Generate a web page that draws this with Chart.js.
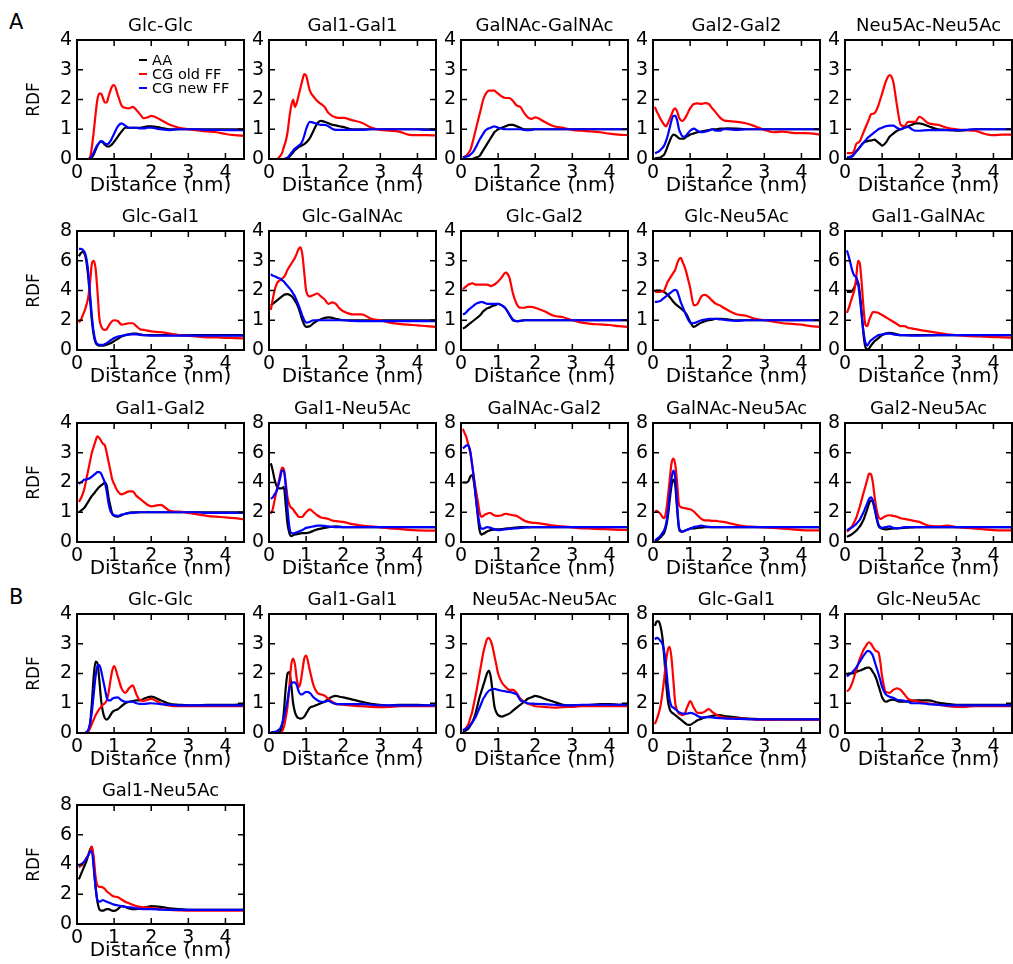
<!DOCTYPE html>
<html><head><meta charset="utf-8">
<script src="https://cdn.jsdelivr.net/npm/chart.js@4.4.1/dist/chart.umd.min.js"></script>
<style>
body{margin:0;background:#fff;width:1013px;height:964px;position:relative;overflow:hidden;font-family:"DejaVu Sans",sans-serif;color:#000;}
canvas{position:absolute;}
.sec{position:absolute;font-size:21px;line-height:1;}
.leg{position:absolute;left:139px;font-size:14.5px;line-height:14px;}
.leg div{position:relative;height:14.2px;white-space:nowrap;}
.leg span.ln{position:absolute;left:0;top:6px;width:8px;height:2px;}
.leg span.tx{position:absolute;left:13px;top:0;}
</style></head><body>
<div class="sec" style="left:9px;top:12px">A</div>
<div class="sec" style="left:9px;top:587px">B</div>
<script>
const distance = [0.05,0.1,0.15,0.2,0.25,0.3,0.35,0.4,0.45,0.5,0.55,0.6,0.65,0.7,0.75,0.8,0.85,0.9,0.95,1.0,
  1.1,1.2,1.3,1.4,1.5,1.6,1.7,1.8,1.9,2.0,
  2.25,2.5,2.75,3.0,3.25,3.5,3.75,4.0,4.25,4.5];

const panelTitles = ['Glc-Glc','Gal1-Gal1','GalNAc-GalNAc','Gal2-Gal2','Neu5Ac-Neu5Ac',
  'Glc-Gal1','Glc-GalNAc','Glc-Gal2','Glc-Neu5Ac','Gal1-GalNAc',
  'Gal1-Gal2','Gal1-Neu5Ac','GalNAc-Gal2','GalNAc-Neu5Ac','Gal2-Neu5Ac',
  'Glc-Glc','Gal1-Gal1','Neu5Ac-Neu5Ac','Glc-Gal1','Glc-Neu5Ac',
  'Gal1-Neu5Ac'];

const yMax = [4,4,4,4,4, 8,4,4,4,8, 4,8,8,8,8, 4,4,4,8,4, 8];

const seriesNames = ['AA','CG old FF','CG new FF'];

const aaValues = [
 [0,0,0,0,0,0,0,0.05,0.15,0.3,0.45,0.55,0.58,0.55,0.48,0.43,0.42,0.45,0.5,0.58, 0.75,0.92,1.05,1.05,1.05,1.05,1.05,1.07,1.1,1.1, 1.05,1.0,1.0,1.0,1.0,1.0,1.0,1.0,1.0,1.0],
 [0,0,0,0,0,0,0,0,0,0.02,0.08,0.15,0.22,0.3,0.35,0.4,0.43,0.47,0.5,0.55, 0.7,0.95,1.2,1.28,1.25,1.2,1.15,1.13,1.1,1.08, 1.0,1.0,1.0,1.0,1.0,1.0,1.0,1.0,1.0,1.0],
 [0,0,0,0,0,0,0.02,0.05,0.07,0.1,0.2,0.3,0.4,0.5,0.6,0.7,0.8,0.9,0.95,1.0, 1.05,1.1,1.15,1.15,1.1,1.05,1.0,1.0,1.0,1.0, 1.0,1.0,1.0,1.0,1.0,1.0,1.0,1.0,1.0,1.0],
 [0.02,0.03,0.04,0.05,0.1,0.15,0.28,0.45,0.6,0.75,0.82,0.8,0.75,0.7,0.68,0.68,0.7,0.75,0.78,0.82, 0.86,0.9,0.92,0.95,0.97,1.0,1.0,1.02,1.02,1.03, 1.02,1.0,1.0,1.0,1.0,1.0,1.0,1.0,1.0,1.0],
 [0.05,0.05,0.08,0.1,0.18,0.25,0.32,0.4,0.48,0.55,0.58,0.6,0.62,0.62,0.64,0.65,0.6,0.55,0.5,0.45, 0.55,0.75,0.85,0.95,1.0,1.05,1.1,1.15,1.2,1.2, 1.1,1.0,0.98,0.95,0.97,1.0,1.0,1.0,1.0,1.0],
 [6.3,6.5,6.6,6.5,6.0,5.0,3.5,2.0,1.0,0.5,0.35,0.3,0.3,0.3,0.32,0.35,0.4,0.45,0.52,0.6, 0.75,0.9,1.0,1.05,1.1,1.1,1.05,1.0,1.0,1.0, 1.0,1.0,1.0,1.0,1.0,1.0,1.0,1.0,1.0,1.0],
 [1.5,1.55,1.6,1.65,1.7,1.75,1.8,1.85,1.87,1.88,1.86,1.82,1.75,1.65,1.55,1.4,1.2,1.0,0.85,0.78, 0.8,0.9,0.98,1.03,1.08,1.1,1.08,1.05,1.02,1.0, 1.0,1.0,1.0,1.0,1.0,1.0,1.0,1.0,1.0,1.0],
 [0.72,0.75,0.8,0.85,0.9,0.95,1.0,1.05,1.1,1.15,1.22,1.3,1.35,1.4,1.42,1.45,1.48,1.5,1.52,1.55, 1.5,1.4,1.2,1.0,0.97,0.98,1.0,1.0,1.0,1.0, 1.0,1.0,1.0,1.0,1.0,1.0,1.0,1.0,1.0,1.0],
 [1.95,2.0,2.0,2.0,1.98,1.95,1.9,1.85,1.78,1.7,1.62,1.55,1.5,1.45,1.4,1.35,1.28,1.2,1.08,0.95, 0.78,0.85,0.92,0.97,1.0,1.02,1.05,1.05,1.04,1.03, 1.0,1.0,1.0,1.0,1.0,1.0,1.0,1.0,1.0,1.0],
 [3.9,3.9,3.9,4.0,4.2,4.5,4.6,3.8,2.5,1.0,0.2,0.05,0.1,0.3,0.45,0.6,0.7,0.8,0.9,1.0, 1.1,1.15,1.12,1.05,1.0,1.0,1.0,1.0,1.0,1.0, 1.0,1.0,1.0,1.0,1.0,1.0,1.0,1.0,1.0,1.0],
 [1.0,1.05,1.1,1.15,1.25,1.35,1.45,1.55,1.62,1.7,1.78,1.85,1.9,1.95,2.0,1.9,1.5,1.2,0.95,0.88, 0.85,0.9,0.95,0.98,1.0,1.0,1.0,1.0,1.0,1.0, 1.0,1.0,1.0,1.0,1.0,1.0,1.0,1.0,1.0,1.0],
 [5.3,4.8,4.2,3.8,3.6,3.6,3.6,3.7,2.5,1.2,0.6,0.4,0.45,0.5,0.52,0.55,0.58,0.6,0.6,0.6, 0.65,0.75,0.85,0.9,0.95,1.0,1.02,1.05,1.03,1.0, 1.0,1.0,1.0,1.0,1.0,1.0,1.0,1.0,1.0,1.0],
 [4.0,4.0,4.0,4.1,4.4,4.5,4.0,3.0,1.8,0.8,0.5,0.55,0.62,0.7,0.75,0.8,0.82,0.85,0.85,0.85, 0.87,0.9,0.92,0.95,0.97,1.0,1.0,1.0,1.0,1.0, 1.0,1.0,1.0,1.0,1.0,1.0,1.0,1.0,1.0,1.0],
 [0.05,0.1,0.2,0.3,0.45,0.6,1.0,1.7,2.8,3.8,4.2,3.8,2.2,0.9,0.7,0.7,0.75,0.8,0.85,0.9, 0.92,0.95,0.97,1.0,1.0,1.0,1.0,1.0,1.0,1.0, 1.0,1.0,1.0,1.0,1.0,1.0,1.0,1.0,1.0,1.0],
 [0.35,0.4,0.47,0.55,0.65,0.75,0.9,1.05,1.25,1.5,1.85,2.2,2.6,2.8,2.7,2.2,1.6,1.1,0.95,0.9, 0.85,0.88,0.9,0.92,0.93,0.95,0.97,0.98,1.0,1.0, 1.0,1.0,1.0,1.0,1.0,1.0,1.0,1.0,1.0,1.0],
 [0,0,0,0,0.02,0.05,0.3,1.0,1.9,2.4,2.35,1.8,1.1,0.7,0.5,0.45,0.5,0.6,0.7,0.75, 0.8,0.9,1.0,1.05,1.07,1.1,1.1,1.15,1.2,1.22, 1.1,0.98,0.95,0.93,0.93,0.95,0.95,0.95,0.95,0.97],
 [0,0,0,0,0.02,0.05,0.2,0.7,1.5,2.0,2.05,1.6,1.0,0.7,0.55,0.5,0.48,0.5,0.55,0.65, 0.85,0.9,0.95,1.0,1.05,1.15,1.22,1.25,1.22,1.2, 1.12,1.05,0.98,0.95,0.92,0.95,0.95,0.95,0.93,0.92],
 [0.05,0.07,0.1,0.15,0.25,0.35,0.5,0.7,0.95,1.2,1.4,1.6,1.8,2.0,2.1,1.9,1.4,0.9,0.7,0.6, 0.55,0.6,0.65,0.75,0.85,0.95,1.05,1.15,1.2,1.25, 1.15,1.05,0.95,0.93,0.93,0.95,0.97,0.97,0.95,0.97],
 [7.2,7.5,7.5,7.2,6.5,5.2,3.5,2.2,1.6,1.4,1.3,1.2,1.1,1.0,0.9,0.8,0.7,0.6,0.55,0.55, 0.7,0.85,0.95,1.05,1.1,1.15,1.2,1.2,1.15,1.12, 1.05,0.98,0.95,0.92,0.92,0.92,0.92,0.92,0.92,0.92],
 [1.95,2.0,2.0,2.0,2.02,2.05,2.08,2.1,2.12,2.15,2.18,2.2,2.2,2.15,2.05,1.95,1.8,1.6,1.4,1.2, 1.05,1.1,1.12,1.08,1.05,1.05,1.06,1.08,1.1,1.1, 1.1,1.02,0.98,0.95,0.95,0.95,0.95,0.95,0.95,0.95],
 [3.0,3.3,3.6,3.9,4.2,4.6,5.0,5.2,4.0,2.5,1.5,1.0,0.9,0.9,0.95,1.0,1.0,0.95,0.9,0.88, 1.0,1.2,1.15,1.05,1.0,1.0,1.05,1.1,1.15,1.2, 1.15,1.05,1.0,0.95,0.95,0.95,0.95,0.95,0.95,0.95]
];

const cgOldValues = [
 [0,0,0,0,0,0,0.05,0.4,0.9,1.5,2.0,2.2,2.2,2.05,1.9,1.9,2.1,2.3,2.45,2.48, 2.15,1.8,1.72,1.7,1.75,1.65,1.5,1.37,1.4,1.45, 1.32,1.15,1.05,1.0,0.96,0.93,0.9,0.84,0.8,0.78],
 [0,0,0,0,0.02,0.1,0.2,0.4,0.6,0.9,1.4,1.8,2.0,1.75,1.9,2.15,2.4,2.65,2.85,2.8, 2.3,2.1,1.95,1.85,1.75,1.55,1.45,1.4,1.38,1.38, 1.3,1.22,1.06,0.98,0.95,0.92,0.82,0.8,0.8,0.79],
 [0.05,0.08,0.12,0.2,0.3,0.5,0.75,1.0,1.25,1.5,1.75,2.0,2.15,2.25,2.3,2.3,2.3,2.3,2.25,2.2, 2.1,2.05,2.05,1.95,1.8,1.75,1.55,1.4,1.35,1.4, 1.25,1.1,1.05,0.98,0.95,0.93,0.9,0.85,0.82,0.8],
 [1.75,1.6,1.48,1.35,1.25,1.15,1.1,1.2,1.35,1.5,1.65,1.7,1.6,1.4,1.3,1.28,1.35,1.45,1.58,1.7, 1.85,1.87,1.85,1.88,1.85,1.7,1.55,1.4,1.3,1.28, 1.25,1.2,1.1,0.98,0.9,0.92,0.88,0.87,0.86,0.82],
 [0.2,0.2,0.2,0.2,0.3,0.5,0.55,0.6,0.75,0.9,1.05,1.2,1.35,1.5,1.52,1.55,1.65,1.8,2.0,2.2, 2.6,2.82,2.6,1.8,1.15,1.1,1.25,1.25,1.25,1.42, 1.2,1.15,1.05,1.0,0.97,0.95,0.85,0.8,0.82,0.82],
 [1.85,2.0,2.3,2.6,3.0,3.5,4.5,5.8,6.0,5.5,4.0,2.2,1.6,1.4,1.35,1.4,1.6,1.8,1.95,2.0, 1.95,1.7,1.75,1.8,1.8,1.6,1.4,1.35,1.3,1.25, 1.2,1.1,1.0,0.95,0.9,0.85,0.85,0.82,0.8,0.78],
 [1.35,1.7,2.0,2.2,2.3,2.35,2.4,2.45,2.55,2.7,2.8,2.9,3.0,3.1,3.25,3.4,3.45,3.2,2.6,2.0, 1.8,1.85,1.9,1.8,1.7,1.55,1.6,1.55,1.4,1.3, 1.2,1.2,1.05,1.0,0.92,0.88,0.85,0.83,0.8,0.78],
 [2.05,2.1,2.15,2.2,2.22,2.25,2.22,2.2,2.2,2.2,2.2,2.2,2.2,2.2,2.18,2.15,2.17,2.2,2.25,2.3, 2.45,2.6,2.45,1.9,1.55,1.42,1.42,1.45,1.45,1.42, 1.3,1.15,1.1,1.0,0.92,0.88,0.86,0.84,0.8,0.78],
 [2.0,1.95,1.95,1.95,1.97,2.0,2.15,2.3,2.4,2.5,2.6,2.7,2.9,3.05,3.1,2.95,2.8,2.6,2.35,2.1, 1.5,1.55,1.8,1.85,1.78,1.65,1.55,1.5,1.42,1.35, 1.2,1.15,1.05,1.0,0.95,0.9,0.88,0.85,0.8,0.78],
 [2.5,2.8,3.2,3.6,4.0,4.8,6.0,5.8,4.5,2.8,1.7,1.6,2.0,2.3,2.55,2.55,2.52,2.5,2.42,2.35, 2.2,2.05,1.9,1.75,1.6,1.6,1.5,1.45,1.4,1.35, 1.25,1.15,1.05,1.0,0.95,0.92,0.9,0.87,0.85,0.82],
 [1.35,1.45,1.6,1.8,2.1,2.4,2.7,3.0,3.2,3.4,3.55,3.5,3.4,3.3,3.25,3.0,2.7,2.4,2.1,1.95, 1.7,1.6,1.65,1.7,1.7,1.55,1.45,1.35,1.25,1.2, 1.25,1.05,1.02,0.98,0.93,0.88,0.85,0.83,0.8,0.76],
 [1.9,2.2,2.8,3.4,3.9,4.5,5.0,4.9,4.0,3.0,2.5,2.3,2.2,2.0,1.85,1.7,1.68,1.7,1.85,2.0, 2.2,2.0,1.8,1.65,1.6,1.55,1.45,1.4,1.38,1.35, 1.2,1.1,1.05,0.98,0.92,0.88,0.82,0.78,0.77,0.77],
 [7.6,7.3,7.0,6.5,6.0,5.2,4.3,3.5,2.8,2.0,1.7,1.75,1.85,1.9,1.95,1.95,1.85,1.8,1.75,1.75, 1.8,1.9,1.85,1.8,1.75,1.6,1.45,1.35,1.3,1.28, 1.2,1.1,1.05,0.98,0.92,0.9,0.87,0.85,0.82,0.8],
 [2.05,2.1,2.0,1.9,1.7,1.6,2.0,3.0,4.2,5.3,5.6,5.2,4.0,2.5,2.35,2.3,2.28,2.25,2.22,2.2, 2.05,1.8,1.55,1.45,1.45,1.42,1.42,1.38,1.35,1.3, 1.15,1.05,1.02,0.98,0.95,0.9,0.85,0.8,0.78,0.78],
 [0.7,0.8,0.95,1.1,1.35,1.6,2.0,2.4,2.85,3.3,3.75,4.2,4.6,4.55,4.0,3.0,2.2,1.7,1.55,1.6, 1.75,1.8,1.75,1.7,1.6,1.55,1.5,1.45,1.4,1.35, 1.1,1.05,1.1,1.0,0.95,0.9,0.85,0.8,0.78,0.78],
 [0,0,0,0,0,0.05,0.15,0.3,0.45,0.6,0.7,0.8,0.88,0.95,1.0,1.1,1.35,1.75,2.1,2.25, 1.9,1.5,1.35,1.5,1.6,1.3,1.1,1.08,1.12,1.15, 1.0,0.92,0.9,0.9,0.9,0.9,0.9,0.9,0.9,0.9],
 [0,0,0,0,0,0,0.05,0.2,0.5,0.9,1.6,2.3,2.5,2.3,1.8,1.55,1.7,2.1,2.5,2.6, 2.1,1.6,1.35,1.3,1.25,1.15,1.05,0.98,0.96,0.95, 0.92,0.9,0.88,0.87,0.88,0.9,0.9,0.9,0.9,0.9],
 [0.1,0.12,0.2,0.3,0.5,0.7,1.0,1.3,1.65,2.0,2.35,2.7,2.95,3.15,3.2,3.1,2.9,2.6,2.3,2.0, 1.7,1.55,1.45,1.45,1.35,1.15,1.05,0.98,0.95,0.9, 0.88,0.85,0.87,0.88,0.9,0.9,0.9,0.9,0.9,0.9],
 [0.6,0.9,1.3,1.8,2.6,3.6,4.8,5.6,5.8,5.0,3.5,2.0,1.5,1.3,1.25,1.2,1.25,1.6,1.9,2.15, 1.7,1.35,1.35,1.45,1.6,1.4,1.25,1.1,1.05,1.0, 0.98,0.95,0.9,0.88,0.88,0.9,0.9,0.9,0.9,0.9],
 [1.4,1.45,1.55,1.7,1.9,2.1,2.3,2.5,2.65,2.8,2.9,3.0,3.05,3.0,2.9,2.8,2.75,2.72,2.4,1.9, 1.38,1.35,1.45,1.5,1.45,1.3,1.15,1.1,1.08,1.05, 1.0,0.95,0.9,0.88,0.88,0.9,0.9,0.9,0.9,0.9],
 [3.8,3.9,4.0,4.2,4.4,4.6,4.9,5.2,4.5,3.2,2.6,2.5,2.5,2.45,2.35,2.2,2.1,2.0,1.9,1.85, 1.8,1.65,1.5,1.4,1.3,1.2,1.15,1.12,1.1,1.08, 1.0,0.95,0.92,0.9,0.9,0.9,0.9,0.9,0.9,0.9]
];

const cgNewValues = [
 [0,0,0,0,0,0,0.03,0.1,0.22,0.35,0.47,0.55,0.6,0.58,0.52,0.5,0.52,0.6,0.72,0.85, 1.1,1.2,1.12,1.05,1.05,1.05,1.03,1.03,1.05,1.05, 1.0,0.97,1.0,1.0,1.0,0.98,0.98,0.97,0.97,0.97],
 [0,0,0,0,0,0,0,0,0.02,0.05,0.12,0.2,0.28,0.35,0.4,0.45,0.5,0.6,0.78,1.0, 1.25,1.22,1.18,1.15,1.15,1.1,1.02,0.98,0.98,0.98, 0.98,0.98,1.0,1.0,1.0,1.0,1.0,1.0,0.98,0.98],
 [0.05,0.07,0.08,0.1,0.15,0.2,0.28,0.4,0.52,0.65,0.75,0.85,0.95,1.0,1.03,1.05,1.08,1.1,1.08,1.05, 1.02,1.0,1.0,1.0,1.0,1.0,0.98,0.97,0.98,1.0, 1.0,1.0,1.0,1.0,1.0,1.0,1.0,1.0,1.0,1.0],
 [0.2,0.22,0.25,0.3,0.37,0.45,0.6,0.8,1.05,1.3,1.45,1.45,1.3,1.0,0.85,0.75,0.75,0.8,0.88,0.95, 1.02,0.95,0.9,0.92,0.95,1.0,0.95,0.95,1.0,1.0, 0.98,1.0,1.0,1.0,1.0,1.0,1.0,1.0,1.0,1.0],
 [0.05,0.05,0.07,0.1,0.17,0.25,0.32,0.4,0.48,0.55,0.62,0.7,0.75,0.8,0.85,0.9,0.95,1.0,1.03,1.05, 1.1,1.12,1.12,1.05,1.0,1.05,1.08,1.0,0.95,0.95, 0.97,0.97,0.97,0.97,0.98,1.0,1.0,1.0,1.0,1.0],
 [6.8,6.8,6.75,6.6,6.2,5.3,3.8,2.3,1.2,0.6,0.4,0.35,0.35,0.35,0.4,0.45,0.55,0.65,0.72,0.8, 0.9,0.95,1.0,1.05,1.05,1.05,1.02,1.0,0.98,0.97, 0.97,0.97,0.97,0.97,0.97,0.97,0.97,0.97,0.97,0.97],
 [2.55,2.5,2.48,2.45,2.42,2.4,2.35,2.3,2.22,2.15,2.08,2.0,1.9,1.8,1.65,1.5,1.32,1.15,1.0,0.92, 0.95,1.0,1.0,1.0,1.0,1.0,1.0,1.0,1.0,1.0, 0.98,0.97,0.97,0.97,0.97,0.97,0.97,0.97,0.97,0.97],
 [1.2,1.22,1.28,1.35,1.4,1.45,1.5,1.55,1.58,1.6,1.62,1.6,1.58,1.55,1.55,1.55,1.55,1.55,1.55,1.55, 1.5,1.4,1.2,1.02,0.97,0.98,1.0,1.0,1.0,1.0, 1.0,1.0,1.0,1.0,1.0,1.0,1.0,1.0,1.0,1.0],
 [1.62,1.62,1.63,1.65,1.7,1.75,1.8,1.85,1.9,1.95,2.0,2.02,1.98,1.8,1.6,1.45,1.3,1.15,1.02,0.92, 0.9,0.95,1.0,1.02,1.05,1.05,1.05,1.03,1.02,1.0, 0.98,1.0,1.0,1.0,1.0,1.0,1.0,1.0,1.0,1.0],
 [6.7,6.3,5.8,5.3,5.0,4.9,4.5,3.5,2.3,1.2,0.5,0.3,0.5,0.65,0.75,0.85,0.92,1.0,1.02,1.05, 1.1,1.1,1.05,1.02,1.0,1.0,0.98,0.97,0.97,0.97, 0.98,1.0,1.0,1.0,1.0,1.0,1.0,1.0,1.0,1.0],
 [1.95,2.0,2.05,2.1,2.1,2.12,2.15,2.2,2.25,2.3,2.35,2.35,2.3,2.15,2.0,1.7,1.3,1.05,0.95,0.9, 0.88,0.92,0.95,0.97,0.98,0.99,1.0,1.0,1.0,1.0, 1.0,1.0,1.0,1.0,1.0,0.98,0.98,0.98,0.98,0.98],
 [2.9,3.0,3.2,3.4,3.8,4.3,4.8,4.8,3.8,2.2,1.0,0.6,0.58,0.6,0.65,0.7,0.75,0.8,0.88,0.95, 1.0,1.05,1.1,1.1,1.08,1.05,1.02,1.0,1.0,1.0, 1.0,1.0,1.0,1.0,1.0,1.0,1.0,1.0,1.0,1.0],
 [6.3,6.4,6.5,6.5,6.1,5.2,4.2,3.0,2.0,1.2,0.9,0.9,0.95,1.0,0.98,0.95,0.9,0.85,0.82,0.8, 0.82,0.85,0.88,0.9,0.92,0.95,0.97,0.98,1.0,1.0, 1.0,1.0,1.0,1.0,1.0,1.0,1.0,1.0,1.0,1.0],
 [0.1,0.2,0.3,0.4,0.6,0.8,1.2,2.0,3.2,4.3,4.8,4.3,2.5,1.0,0.75,0.7,0.75,0.8,0.85,0.9, 1.0,1.05,1.1,1.05,1.02,1.0,1.0,1.0,1.0,1.0, 1.0,1.0,1.0,1.0,1.0,1.0,1.0,1.0,1.0,1.0],
 [0.8,0.85,0.92,1.0,1.1,1.2,1.35,1.5,1.75,2.0,2.3,2.6,2.9,3.0,2.8,2.3,1.7,1.2,1.0,0.95, 1.0,1.05,0.95,0.92,0.95,1.0,1.0,1.0,1.0,1.0, 1.0,1.0,1.0,1.0,1.0,1.0,1.0,1.0,1.0,1.0],
 [0,0,0,0,0.02,0.1,0.3,0.7,1.3,1.9,2.25,2.28,2.1,1.8,1.5,1.2,1.1,1.1,1.15,1.18, 1.2,1.1,1.05,1.05,1.05,1.0,0.98,0.98,0.99,1.0, 0.97,0.95,0.93,0.93,0.93,0.93,0.93,0.93,0.93,0.93],
 [0.02,0.03,0.04,0.05,0.1,0.15,0.3,0.5,0.8,1.1,1.5,1.65,1.7,1.7,1.6,1.4,1.3,1.3,1.35,1.38, 1.35,1.2,1.1,1.05,1.05,1.08,1.02,0.98,0.97,0.97, 0.97,0.97,0.95,0.93,0.93,0.93,0.93,0.93,0.93,0.93],
 [0.1,0.12,0.15,0.2,0.27,0.35,0.45,0.55,0.7,0.85,1.0,1.15,1.25,1.35,1.42,1.45,1.47,1.48,1.47,1.45, 1.42,1.4,1.38,1.35,1.3,1.1,1.05,1.0,0.99,0.98, 0.97,0.95,0.93,0.93,0.95,0.95,0.95,0.95,0.95,0.95],
 [6.3,6.4,6.35,6.2,6.0,5.5,4.5,3.2,2.2,1.8,1.7,1.6,1.5,1.4,1.35,1.3,1.3,1.3,1.32,1.35, 1.3,1.15,1.05,1.05,1.07,1.05,1.02,1.0,0.98,0.97, 0.95,0.93,0.92,0.92,0.92,0.92,0.92,0.92,0.92,0.92],
 [1.9,1.95,2.0,2.05,2.12,2.2,2.3,2.4,2.5,2.6,2.68,2.75,2.75,2.7,2.6,2.4,2.2,2.0,1.78,1.55, 1.3,1.22,1.18,1.12,1.1,1.08,1.05,1.0,1.0,1.0, 0.97,0.95,0.93,0.93,0.93,0.93,0.93,0.93,0.93,0.93],
 [3.9,4.0,4.1,4.2,4.4,4.6,4.85,4.9,3.8,2.5,1.6,1.5,1.55,1.6,1.55,1.5,1.45,1.4,1.35,1.3, 1.25,1.2,1.15,1.12,1.1,1.05,1.02,1.0,1.0,1.0, 0.97,0.95,0.95,0.95,0.95,0.95,0.95,0.95,0.95,0.95]
];

const seriesColors = ['#000000', '#ff0000', '#0000ff'];

Chart.defaults.font.family = '"DejaVu Sans", sans-serif';
Chart.defaults.color = '#000';

const frameTicks = {
  id: 'frameTicks',
  afterDatasetsDraw(chart) {
    const {ctx, chartArea: a, scales: {x, y}} = chart;
    ctx.save();
    ctx.strokeStyle = '#000';
    ctx.lineWidth = 1.5;
    ctx.beginPath();
    x.ticks.forEach(t => {
      const px = x.getPixelForValue(t.value);
      ctx.moveTo(px, a.bottom); ctx.lineTo(px, a.bottom - 6);
      ctx.moveTo(px, a.top); ctx.lineTo(px, a.top + 6);
    });
    y.ticks.forEach(t => {
      const py = y.getPixelForValue(t.value);
      ctx.moveTo(a.left, py); ctx.lineTo(a.left + 6, py);
      ctx.moveTo(a.right, py); ctx.lineTo(a.right - 6, py);
    });
    ctx.stroke();
    ctx.lineWidth = 2;
    ctx.strokeRect(a.left, a.top, a.right - a.left, a.bottom - a.top);
    ctx.restore();
  }
};

const PW = 167, PH = 119, LW = 57, RW = 3, TH = 28, BH = 45;

function pts(vals) {
  const out = [];
  vals.forEach((v, i) => { if (v !== null) out.push({x: distance[i], y: v}); });
  return out;
}

panelTitles.forEach((title, p) => {
  const r = Math.floor(p / 5), c = p % 5;
  const plotLeft = 77 + 192 * c;
  const plotTop = 40 + 191.3 * r;
  const cv = document.createElement('canvas');
  cv.width = LW + PW + RW;
  cv.height = TH + PH + BH;
  cv.style.left = Math.round(plotLeft - LW) + 'px';
  cv.style.top = Math.round(plotTop - TH) + 'px';
  document.body.appendChild(cv);
  const ym = yMax[p];
  const lists = [aaValues[p], cgOldValues[p], cgNewValues[p]];
  new Chart(cv, {
    type: 'line',
    data: {
      datasets: lists.map((vals, k) => ({
        label: seriesNames[k],
        data: pts(vals),
        borderColor: seriesColors[k],
        backgroundColor: seriesColors[k],
        borderWidth: 2.2,
        pointRadius: 0,
        fill: false,
        cubicInterpolationMode: 'monotone',
        order: 2 - k
      }))
    },
    options: {
      responsive: false,
      animation: false,
      events: [],
      layout: {padding: {left: 0, right: RW, top: 0, bottom: 0}},
      plugins: {
        legend: {display: false},
        tooltip: {enabled: false},
        title: {display: true, text: title, fullSize: false, color: '#000',
          font: {size: 18, weight: 'normal', lineHeight: 1.2},
          padding: {top: 4, bottom: TH - 21.6 - 4}}
      },
      scales: {
        x: {
          type: 'linear', min: 0, max: 4.5,
          grid: {display: false, drawTicks: false, tickLength: 0}, border: {display: false},
          ticks: {stepSize: 1, includeBounds: false, color: '#000', font: {size: 19}, padding: 3, maxRotation: 0, autoSkip: false},
          title: {display: true, text: 'Distance (nm)', color: '#000', font: {size: 20, lineHeight: 1.2}, padding: {top: 0, bottom: 6}},
          afterFit(s) { s.height = BH; }
        },
        y: {
          type: 'linear', min: 0, max: ym,
          grid: {display: false, drawTicks: false, tickLength: 0}, border: {display: false},
          ticks: {stepSize: ym / 4, color: '#000', font: {size: 19}, padding: 5, autoSkip: false},
          title: {display: c === 0, text: 'RDF', color: '#000', font: {size: 17, lineHeight: 1.2}, padding: {top: 4, bottom: 0}},
          afterFit(s) { s.width = LW; }
        }
      }
    },
    plugins: [frameTicks]
  });
});

// legend in the first panel
const leg = document.createElement('div');
leg.className = 'leg';
leg.style.top = '53px';
seriesNames.forEach((name, k) => {
  const row = document.createElement('div');
  row.innerHTML = '<span class="ln" style="background:' + seriesColors[k] + '"></span><span class="tx">' + name + '</span>';
  leg.appendChild(row);
});
document.body.appendChild(leg);
</script>
</body></html>
